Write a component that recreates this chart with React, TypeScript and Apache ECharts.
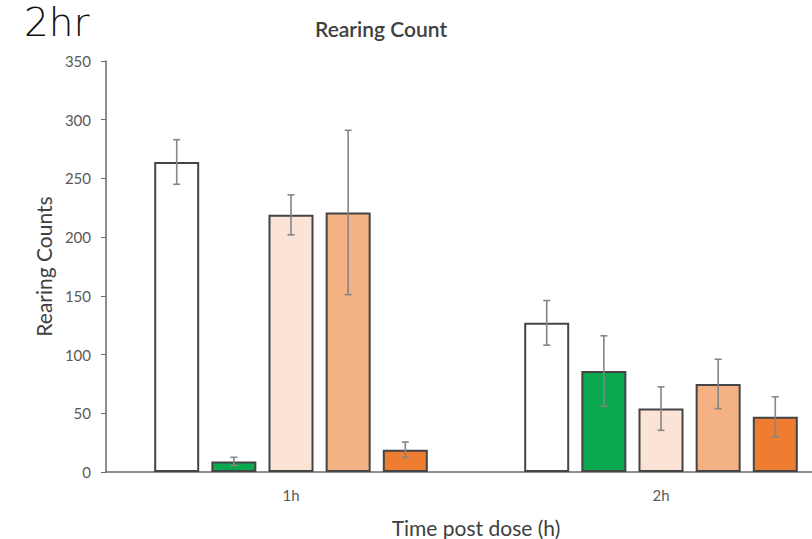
import React, { useEffect, useRef } from "react";
import * as echarts from "echarts";

const categories = ["1h", "2h"];
const seriesNames = ["Vehicle", "Group B", "Group C", "Group D", "Group E"];
const seriesColors = ["#ffffff", "#0aa84f", "#fbe4d5", "#f4b183", "#ee7d31"];
// means per series: [1h, 2h]
const means = [
  [264, 127],
  [9, 86],
  [219, 54],
  [221, 75],
  [19, 47],
];
// errors (± SEM) per series: [1h, 2h]
const errors = [
  [19, 19],
  [3.5, 30],
  [17, 18.5],
  [70, 21],
  [6.5, 17],
];
const yTicks = { min: 0, max: 350, interval: 50 };

const BAR_W = 45;
const BAR_GAP = 0.27;

export default function App() {
  const ref = useRef<HTMLDivElement>(null);
  useEffect(() => {
    if (!ref.current) return;
    const chart = echarts.init(ref.current, null, { renderer: "svg" });
    const font = "Lato, 'Open Sans', sans-serif";
    const barSeries = seriesNames.map((n, i) => ({
      name: n,
      type: "bar",
      data: means[i],
      barWidth: BAR_W,
      barGap: BAR_GAP * 100 + "%",
      itemStyle: { color: seriesColors[i], borderColor: "#444444", borderWidth: 2 },
      z: 2,
    }));
    const errData: number[][] = [];
    seriesNames.forEach((_, s) => {
      categories.forEach((_, c) => {
        errData.push([c, s, means[s][c] - errors[s][c], means[s][c] + errors[s][c]]);
      });
    });
    const n = seriesNames.length;
    const errSeries = {
      type: "custom",
      data: errData,
      z: 5,
      renderItem: (params: any, api: any) => {
        const c = api.value(0);
        const s = api.value(1);
        const lo = api.coord([c, api.value(2)]);
        const hi = api.coord([c, api.value(3)]);
        const pitch = BAR_W * (1 + BAR_GAP);
        const x = lo[0] + (s - (n - 1) / 2) * pitch;
        const cap = 3.5;
        const style = { stroke: "#858585", lineWidth: 1.6 };
        return {
          type: "group",
          children: [
            { type: "line", shape: { x1: x, y1: lo[1], x2: x, y2: hi[1] }, style },
            { type: "line", shape: { x1: x - cap, y1: lo[1], x2: x + cap, y2: lo[1] }, style },
            { type: "line", shape: { x1: x - cap, y1: hi[1], x2: x + cap, y2: hi[1] }, style },
          ],
        };
      },
    };
    chart.setOption({
      animation: false,
      backgroundColor: "#ffffff",
      title: {
        text: "Rearing Count",
        left: 310,
        top: 13,
        textStyle: { fontFamily: font, fontSize: 21, fontWeight: 600, color: "#404040" },
      },
      graphic: [
        {
          type: "text",
          left: 24,
          top: 3,
          style: {
            text: "2hr",
            fontFamily: "'DejaVu Sans ExtraLight', 'DejaVu Sans', sans-serif",
            fontSize: 39,
            fontWeight: 200,
            fill: "#111111",
          },
        },
      ],
      grid: { left: 106, right: 0, top: 61, bottom: 67, outerBoundsMode: "none" },
      xAxis: {
        type: "category",
        data: categories,
        name: "Time post dose (h)",
        nameLocation: "middle",
        nameGap: 45,
        nameTextStyle: { fontFamily: font, fontSize: 21, color: "#404040" },
        axisLine: { lineStyle: { color: "#6b6b6b", width: 1.5 } },
        axisTick: { show: false },
        axisLabel: { fontFamily: font, fontSize: 15, color: "#595959", margin: 15 },
      },
      yAxis: {
        type: "value",
        min: yTicks.min,
        max: yTicks.max,
        interval: yTicks.interval,
        name: "Rearing Counts",
        nameLocation: "middle",
        nameRotate: 90,
        nameGap: 43,
        nameTextStyle: { fontFamily: font, fontSize: 21, color: "#404040" },
        axisLine: { show: true, lineStyle: { color: "#6b6b6b", width: 1.5 } },
        axisTick: { show: true, length: 5, lineStyle: { color: "#6b6b6b" } },
        axisLabel: { fontFamily: font, fontSize: 15, color: "#595959", margin: 15 },
        splitLine: { show: false },
      },
      series: [...barSeries, errSeries],
    });
    return () => chart.dispose();
  }, []);
  return (
    <div style={{ position: "absolute", left: 0, top: 0, width: 812, height: 539, overflow: "hidden" }}>
      <div ref={ref} style={{ width: 846, height: 539 }} />
    </div>
  );
}
